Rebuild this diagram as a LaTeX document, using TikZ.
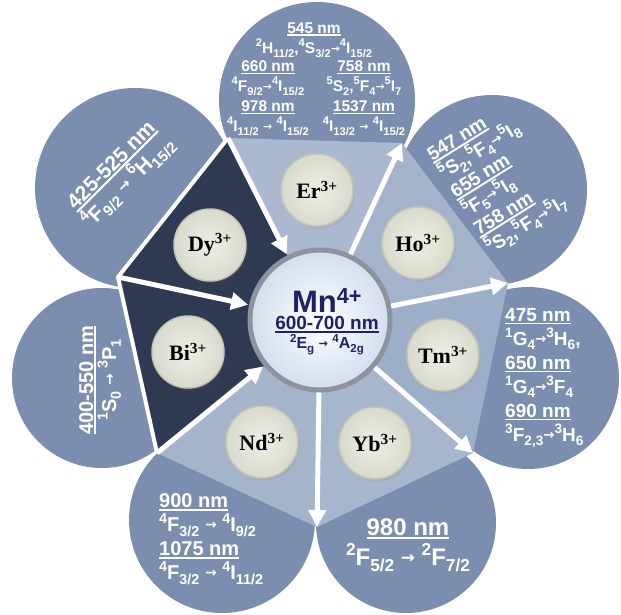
\documentclass[tikz,border=0pt]{standalone}
\usepackage{fontspec}
\usepackage{graphicx}
\setmainfont{Liberation Serif}
\newfontfamily\lsans{Liberation Sans}
\newfontfamily\djv{DejaVu Sans}
\usetikzlibrary{arrows.meta,shadows}

\definecolor{petalc}{HTML}{7B8EAF}
\definecolor{darkc}{HTML}{2E3A52}
\definecolor{ionc}{HTML}{D8DBCB}
\definecolor{ionrim}{HTML}{C2C6B3}
\definecolor{navy}{HTML}{1F2266}
\definecolor{mnc}{HTML}{D3DEEE}
\definecolor{mnrim}{HTML}{8E949F}

\newcommand{\sps}[1]{\raisebox{0.42em}{\scalebox{0.72}{#1}}}
\newcommand{\sbs}[1]{\raisebox{-0.24em}{\scalebox{0.72}{#1}}}
\newcommand{\tr}{\raisebox{0.08em}{\scalebox{0.7}{\djv\bfseries →}}}
\newcommand{\wave}[1]{\setbox0\hbox{#1}\rlap{\rule[-0.17em]{\wd0}{0.1em}}\box0}

\begin{document}
\begin{tikzpicture}[x=1pt,y=-1pt,
  petal/.style={fill=petalc},
  ion/.style={circle,minimum size=72pt,inner sep=0pt,draw=ionrim,line width=1.5pt,
    inner color=ionc!45!white,outer color=ionc,
    circular drop shadow={shadow scale=1,shadow xshift=2pt,shadow yshift=-3pt,opacity=.3},
    font=\bfseries\fontsize{22}{22}\selectfont},
  spoke/.style={white,line width=5pt,-{Triangle[length=17pt,width=17pt]}},
  ptext/.style={text=white,inner sep=0pt}]
  \useasboundingbox (0,0) rectangle (621,614);
  \fill[white] (0,0) rectangle (621,614);
  % petals
  \fill[petal] (317,100) circle (98);
  \fill[petal] (492,190) circle (95);
  \fill[petal] (528,378) circle (91);
  \fill[petal] (406,523) circle (90);
  \fill[petal] (222,520) circle (93);
  \fill[petal] (102,378) circle (90);
  \fill[petal] (135,188) circle (100);
  % heptagon
  \coordinate (o) at (320,320);
  \coordinate (va) at (228,138);
  \coordinate (vb) at (402,143);
  \coordinate (vc) at (508,283);
  \coordinate (vd) at (473,453);
  \coordinate (ve) at (317,527);
  \coordinate (vf) at (157,453);
  \coordinate (vg) at (118,277);
  \fill[fill={rgb,255:red,170;green,185;blue,207}] (o) -- (va) -- (vb) -- cycle;
  \fill[fill={rgb,255:red,163;green,179;blue,203}] (o) -- (vb) -- (vc) -- cycle;
  \fill[fill={rgb,255:red,157;green,175;blue,200}] (o) -- (vc) -- (vd) -- cycle;
  \fill[fill={rgb,255:red,166;green,182;blue,205}] (o) -- (vd) -- (ve) -- cycle;
  \fill[fill={rgb,255:red,164;green,180;blue,203}] (o) -- (ve) -- (vf) -- cycle;
  \fill[darkc] (o) -- (vf) -- (vg) -- (va) -- cycle;
  \draw[white,line width=4pt,line join=round] (vf) -- (vg) -- (va);
  % centre
  \node[circle,minimum size=140pt,inner sep=0pt,draw=mnrim,line width=5pt,
    inner color=white,outer color=mnc] (mn) at (o) {};
  \node[text=navy,align=center,inner sep=0pt] (mntext) at (327,322)
    {{\lsans\bfseries\fontsize{31}{34}\selectfont Mn\textsuperscript{4+}}\\[3pt]
     {\lsans\bfseries\fontsize{19}{20}\selectfont \wave{600-700 nm}}\\
     {\lsans\bfseries\fontsize{16}{18}\selectfont \sps{2}E\sbs{g} \tr\ \sps{4}A\sbs{2g}}};
  \draw[spoke,shorten >=1pt] (va) -- (mn);
  \draw[spoke,shorten >=1pt] (vg) -- (mn);
  \draw[spoke,shorten >=1pt] (vf) -- (mn);
  \draw[spoke] (mn) -- (vb);
  \draw[spoke] (mn) -- (vc);
  \draw[spoke] (mn) -- (vd);
  \draw[spoke] (mn) -- (ve);
  % ions
  \node[ion] (er) at (317,190) {Er\textsuperscript{3+}};
  \node[ion] (ho) at (418,243) {Ho\textsuperscript{3+}};
  \node[ion] (tm) at (443,355) {Tm\textsuperscript{3+}};
  \node[ion] (yb) at (375,443) {Yb\textsuperscript{3+}};
  \node[ion] (nd) at (262,442) {Nd\textsuperscript{3+}};
  \node[ion] (bi) at (188,352) {Bi\textsuperscript{3+}};
  \node[ion] (dy) at (210,245) {Dy\textsuperscript{3+}};
  % petal texts
  \node[ptext,align=center,font=\lsans\bfseries\fontsize{15.5}{20}\selectfont] (ertop) at (314,40)
    {\wave{545 nm}\\ \sps{2}H\sbs{11/2},\sps{4}S\sbs{3/2}\tr\sps{4}I\sbs{15/2}};
  \node[ptext,align=center,font=\lsans\bfseries\fontsize{15.5}{20}\selectfont] (erleft) at (268,98)
    {\wave{660 nm}\\ \sps{4}F\sbs{9/2}\tr\sps{4}I\sbs{15/2}\\ \wave{978 nm}\\ \sps{4}I\sbs{11/2} \tr\ \sps{4}I\sbs{15/2}};
  \node[ptext,align=center,font=\lsans\bfseries\fontsize{15.5}{20}\selectfont] (erright) at (364,98)
    {\wave{758 nm}\\ \sps{5}S\sbs{2},\sps{5}F\sbs{4}\tr\sps{5}I\sbs{7}\\ \wave{1537 nm}\\ \sps{4}I\sbs{13/2} \tr\ \sps{4}I\sbs{15/2}};
  \node[ptext,align=left,rotate=32,font=\lsans\bfseries\fontsize{19}{22}\selectfont] (hotext) at (498,180)
    {\wave{547 nm}\\ \sps{5}S\sbs{2},\sps{5}F\sbs{4}\tr\sps{5}I\sbs{8}\\ \wave{655 nm}\\ \sps{5}F\sbs{5}\tr\sps{5}I\sbs{8}\\ \wave{758 nm}\\ \sps{5}S\sbs{2},\sps{5}F\sbs{4}\tr\sps{5}I\sbs{7}};
  \node[ptext,align=left,anchor=west,font=\lsans\bfseries\fontsize{19}{24}\selectfont] (tmtext) at (505,378)
    {\wave{475 nm}\\ \sps{1}G\sbs{4}\tr\sps{3}H\sbs{6},\\ \wave{650 nm}\\ \sps{1}G\sbs{4}\tr\sps{3}F\sbs{4}\\ \wave{690 nm}\\ \sps{3}F\sbs{2,3}\tr\sps{3}H\sbs{6}};
  \node[ptext,align=center,font=\lsans\bfseries\fontsize{24}{30}\selectfont] (ybtext) at (408,545)
    {\wave{980 nm}\\ \sps{2}F\sbs{5/2} \tr\ \sps{2}F\sbs{7/2}};
  \node[ptext,align=left,anchor=west,font=\lsans\bfseries\fontsize{20}{24}\selectfont] (ndtext) at (159,539)
    {\wave{900 nm}\\ \sps{4}F\sbs{3/2} \tr\ \sps{4}I\sbs{9/2}\\ \wave{1075 nm}\\ \sps{4}F\sbs{3/2} \tr\ \sps{4}I\sbs{11/2}};
  \node[ptext,align=center,rotate=90,font=\lsans\bfseries\fontsize{20}{23}\selectfont] (bitext) at (100,380)
    {\wave{400-550 nm}\\ \sps{1}S\sbs{0} \tr\ \sps{3}P\sbs{1}};
  \node[ptext,align=center,rotate=45,font=\lsans\bfseries\fontsize{21}{24}\selectfont] (dytext) at (121,175)
    {\wave{425-525 nm}\\ \sps{4}F\sbs{9/2} \tr\ \sps{6}H\sbs{15/2}};
\end{tikzpicture}
\end{document}
